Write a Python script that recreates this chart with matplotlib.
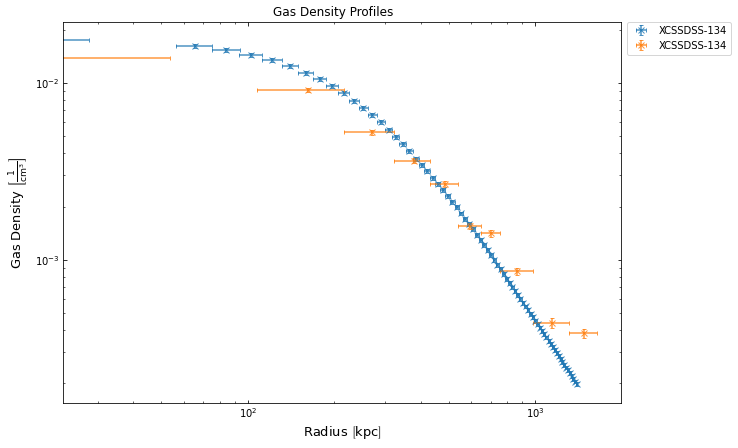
import numpy as np
import matplotlib
matplotlib.use("Agg")
import matplotlib.pyplot as plt

# blue profile (fine bins)
blue_r = [14.0, 65.5, 84.2, 102.9, 121.7, 140.4, 159.1, 177.8, 196.5, 215.3, 234.0,
          252.7, 271.4, 290.1, 308.9, 327.6, 346.3, 365.0, 383.7, 402.5, 421.2,
          439.9, 458.6, 477.3, 496.1, 514.8, 533.5, 552.2, 570.9, 589.7, 608.4,
          627.1, 645.8, 664.5, 683.3, 702.0, 720.7, 739.4, 758.1, 776.9, 795.6,
          814.3, 833.0, 851.7, 870.5, 889.2, 907.9, 926.6, 945.3, 964.1, 982.8,
          1001.5, 1020.2, 1038.9, 1057.7, 1076.4, 1095.1, 1113.8, 1132.5, 1151.3,
          1170.0, 1188.7, 1207.4, 1226.1, 1244.9, 1263.6, 1282.3, 1301.0, 1319.7,
          1338.5, 1357.2, 1375.9, 1394.6]
blue_rerr = [13.9] + [9.36] * 72
blue_dens = [0.01758, 0.0162, 0.0154, 0.0144, 0.0135, 0.0125, 0.0114, 0.01054,
             0.00962, 0.00874, 0.00791, 0.00719, 0.00659, 0.00599, 0.00542,
             0.00493, 0.00450, 0.00411, 0.00373, 0.00345, 0.00318, 0.00291,
             0.00267, 0.00248, 0.00229, 0.00212, 0.00198, 0.00183, 0.00170,
             0.001594, 0.001487, 0.001386, 0.001293, 0.001212, 0.001136,
             0.001064, 0.000997, 0.000934, 0.000883, 0.000831, 0.000781,
             0.000736, 0.000698, 0.000663, 0.000630, 0.000600, 0.000571,
             0.000545, 0.000519, 0.000496, 0.000473, 0.000453, 0.000433,
             0.000414, 0.000397, 0.000380, 0.000364, 0.000349, 0.000335,
             0.000322, 0.000309, 0.000297, 0.000286, 0.000275, 0.000265,
             0.000255, 0.000246, 0.000237, 0.000228, 0.000220, 0.000212,
             0.000205, 0.000198]
blue_derr = [d * 0.025 for d in blue_dens]

# orange profile (coarse bins)
orange_r = [15.0, 162.4, 270.3, 377.9, 486.5, 595.5, 703.5, 868.0, 1144.5, 1474.5]
orange_rerr = [38.7, 54.6, 53.4, 54.2, 54.4, 54.7, 53.5, 111.0, 165.5, 164.5]
orange_dens = [0.01385, 0.00913, 0.00526, 0.003634, 0.002683, 0.001558,
               0.001411, 0.000860, 0.000440, 0.0003836]
orange_derr = [0.0003, 0.00027, 0.00016, 0.00011, 0.0001, 0.00006,
               0.00006, 0.000043, 0.000028, 0.000023]

fig = plt.figure(figsize=(738 / 72, 448 / 72), dpi=72)
ax = fig.add_axes([0.0858, 0.1004, 0.7557, 0.8505])

ax.errorbar(blue_r, blue_dens, xerr=blue_rerr, yerr=blue_derr, fmt="x",
            color="#1f77b4", alpha=0.8, capsize=2, markersize=6,
            label="XCSSDSS-134")
ax.errorbar(orange_r, orange_dens, xerr=orange_rerr, yerr=orange_derr, fmt="x",
            color="#ff7f0e", alpha=0.8, capsize=2, markersize=6,
            label="XCSSDSS-134")

ax.set_xscale("log")
ax.set_yscale("log")
ax.set_xlim(22.8, 1990)
ax.set_ylim(1.549e-4, 0.02213)

ax.tick_params(which="both", direction="in", top=True, right=True)
ax.set_title("Gas Density Profiles", fontsize=12, x=0.483)
ax.set_xlabel(r"Radius $\left[\mathrm{kpc}\right]$", fontsize=13)
ax.set_ylabel(r"Gas Density $\left[\mathrm{\frac{1}{cm^{3}}}\right]$", fontsize=13)

ax.legend(loc="upper left", bbox_to_anchor=(1.01, 1.0), borderaxespad=0)

fig.savefig("out.png", dpi=72)
